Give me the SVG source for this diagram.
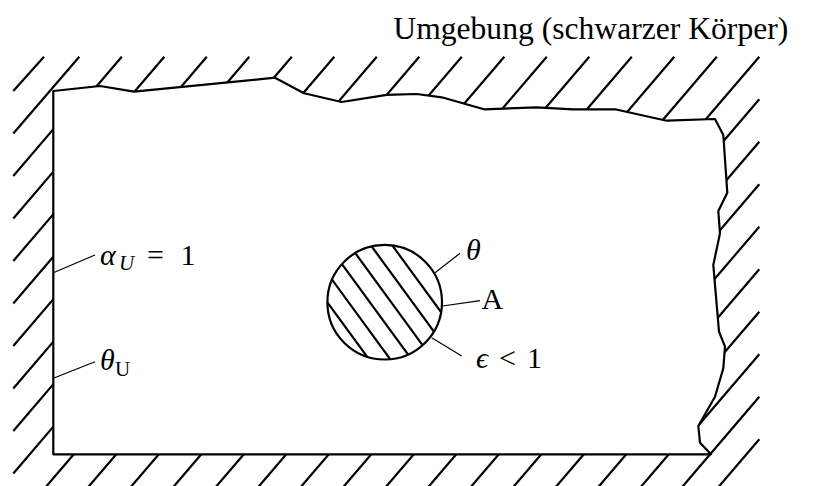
<svg xmlns="http://www.w3.org/2000/svg" width="813" height="486" viewBox="0 0 813 486">
<style>
.bd{fill:none;stroke:#000;stroke-width:2.2;stroke-linejoin:round}
.h{stroke:#000;stroke-width:2.2;stroke-linecap:butt}
.ld{stroke:#000;stroke-width:1.2}
.t{font-family:"Liberation Serif","DejaVu Serif",serif;font-size:30px;fill:#000}
.i{font-style:italic}
.s{font-size:21px}
</style>
<defs>
<clipPath id="outside">
<path clip-rule="evenodd" d="M0,0H813V486H0Z M53.3,91 L100,86 134,91.7 275,77.7 304,93.3 341.7,102 386.7,94.8 416.7,94 441.7,97.3 484,109.3 536.7,107.3 573,109.3 615,109.3 666.7,120.7 715,119 723.3,135 727.3,192.7 718.3,211 720,233.3 713.3,265 719,331.7 725,346.7 723.3,368.3 715,396.7 698.3,426 700,442.7 711,454.3 53.3,454.3Z"/>
</clipPath>
<clipPath id="disc"><circle cx="384.7" cy="302.2" r="57.3"/></clipPath>
</defs>

<g id="environment">
<g clip-path="url(#outside)">
<path class="h" d="M13.3,91L44,56.7 M13.3,133.5L79.3,56.7 M13.3,176L60,121.4 M13.3,218.5L60,163.9 M13.3,261L60,206.4 M13.3,303.5L60,248.9 M13.3,346L60,291.4 M13.3,388.5L60,333.9 M13.3,431L60,376.4 M13.3,473.5L60,418.9"/>
<path class="h" d="M121.8,56.7L62,126.7 M164.3,56.7L104.5,126.7 M206.8,56.7L147,126.7 M249.3,56.7L189.5,126.7 M291.8,56.7L232,126.7 M334.3,56.7L274.5,126.7 M376.8,56.7L317,126.7 M419.3,56.7L359.5,126.7 M461.8,56.7L402,126.7 M504.3,56.7L444.5,126.7 M546.8,56.7L487,126.7 M589.3,56.7L529.5,126.7 M631.8,56.7L572,126.7 M674.3,56.7L614.5,126.7 M716.8,56.7L657,126.7"/>
<path class="h" d="M759.3,56.7L679.3,150.3 M759.3,99.2L679.3,192.8 M759.3,141.7L679.3,235.3 M759.3,184.2L679.3,277.8 M759.3,226.7L679.3,320.3 M759.3,269.2L679.3,362.8 M759.3,311.7L679.3,405.3 M759.3,354.2L679.3,447.8 M759.3,396.7L679.6,490 M759.3,439.2L715.9,490"/>
<path class="h" d="M82.6,444L43.2,490 M125.1,444L85.7,490 M167.6,444L128.2,490 M210.1,444L170.7,490 M252.6,444L213.2,490 M295.1,444L255.7,490 M337.6,444L298.2,490 M380.1,444L340.7,490 M422.6,444L383.2,490 M465.1,444L425.7,490 M507.6,444L468.2,490 M550.1,444L510.7,490 M592.6,444L553.2,490 M635.1,444L595.7,490 M677.6,444L638.2,490"/>
</g>
<path class="bd" d="M53.3,91 L100,86 134,91.7 275,77.7 304,93.3 341.7,102 386.7,94.8 416.7,94 441.7,97.3 484,109.3 536.7,107.3 573,109.3 615,109.3 666.7,120.7 715,119 723.3,135 727.3,192.7 718.3,211 720,233.3 713.3,265 719,331.7 725,346.7 723.3,368.3 715,396.7 698.3,426 700,442.7 711,454.3 53.3,454.3Z"/>
</g>

<g id="body">
<g clip-path="url(#disc)">
<path class="h" d="M306,273.1L388.6,386.1 M319.8,262.9L402.4,375.9 M333.7,252.8L416.3,365.8 M347.6,242.6L430.2,355.6 M361.5,232.5L444.1,345.5 M375.4,222.3L458,335.3"/>
</g>
<circle class="bd" cx="384.7" cy="302.2" r="57.3"/>
</g>

<g id="connectors">
<line class="ld" x1="435" y1="272.7" x2="460" y2="253.3"/>
<line class="ld" x1="442.7" y1="306" x2="480" y2="300.7"/>
<line class="ld" x1="431.7" y1="337.7" x2="461.7" y2="356"/>
<line class="ld" x1="53.3" y1="272.7" x2="95" y2="255"/>
<line class="ld" x1="53.3" y1="378.3" x2="95" y2="361.7"/>
</g>

<g id="labels">
<text class="t" x="393.3" y="39" style="font-size:31px" textLength="395" lengthAdjust="spacingAndGlyphs">Umgebung (schwarzer Körper)</text>
<text class="t i" x="466" y="260">θ</text>
<text class="t" x="481.5" y="308.5">A</text>
<text class="t" y="368"><tspan class="i" x="476">ϵ</tspan><tspan x="499">&lt;</tspan><tspan x="527">1</tspan></text>
<text class="t" y="265"><tspan class="i" x="100">α</tspan><tspan class="i s" x="119" y="270">U</tspan><tspan x="147" y="265">=</tspan><tspan x="180.5" y="265">1</tspan></text>
<text class="t" y="370"><tspan class="i" x="100">θ</tspan><tspan class="s" x="115" y="376">U</tspan></text>
</g>
</svg>
